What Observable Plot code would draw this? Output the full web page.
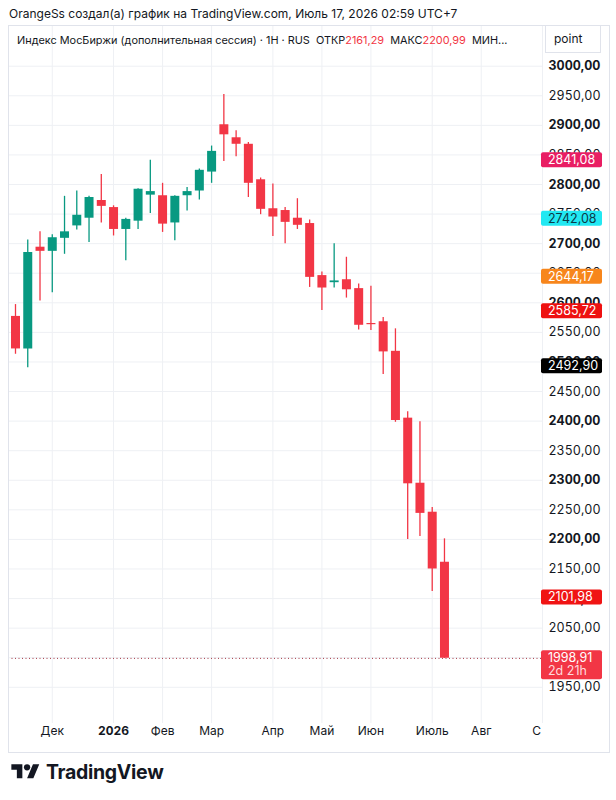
<!DOCTYPE html>
<html>
<head>
<meta charset="utf-8">
<script src="https://cdn.jsdelivr.net/npm/d3@7"></script>
<script src="https://cdn.jsdelivr.net/npm/@observablehq/plot@0.6"></script>
<style>
  body { margin: 0; background: #fff; font-family: Inter, "Noto Sans", sans-serif; color: #131722; }
  #wrap { position: relative; width: 616px; height: 800px; overflow: hidden; background: #fff; }
  #title { position: absolute; left: 9px; top: 6px; font-size: 12px; white-space: nowrap; color: #131722; }
  #frame { position: absolute; left: 8px; top: 25px; width: 602px; height: 728px; border: 1px solid #e0e3eb; box-sizing: border-box; pointer-events: none; }
  #chart { position: absolute; left: 0; top: 25px; }
  #legend { position: absolute; left: 17px; top: 33px; font-size: 10.9px; white-space: nowrap; color: #131722; }
  #legend .v { color: #f23645; }
  #unit { position: absolute; left: 545px; top: 25px; width: 56px; height: 28px; border: 1px solid #e0e3eb; background: #fff; box-sizing: border-box; font-size: 12px; line-height: 26px; padding-left: 8px; }
  #logo { position: absolute; left: 11px; top: 760px; display: flex; align-items: center; gap: 6px; }
  #logo span { font-size: 19.5px; font-weight: 700; letter-spacing: -0.3px; color: #131722; }
</style>
</head>
<body>
<div id="wrap">
  <div id="title">OrangeSs создал(а) график на TradingView.com, Июль 17, 2026 02:59 UTC+7</div>
  <div id="chart"></div>
  <div id="frame"></div>
  <div id="legend">Индекс МосБиржи (дополнительная сессия) · 1H · RUS&nbsp;&nbsp;ОТКР<span class="v">2161,29</span>&nbsp;&nbsp;МАКС<span class="v">2200,99</span>&nbsp;&nbsp;МИН...</div>
  <div id="unit">point</div>
  <div id="logo">
    <svg width="29" height="22" viewBox="0 0 36 28"><path fill="#131722" d="M14 22H7V11H0V4h14v18zM28 22h-8l7.5-18h8L28 22z"/><circle fill="#131722" cx="20" cy="8" r="4"/></svg>
    <span>TradingView</span>
  </div>
</div>
<script>
// ---- Data (weekly candles, index 0 = week of 10 Nov 2025) ----
const opens  = [2577, 2522, 2694, 2687, 2709, 2730, 2743, 2773, 2761, 2724, 2738, 2782, 2781, 2735, 2781, 2789, 2821, 2901, 2879, 2868, 2808, 2759, 2756, 2743, 2734, 2646, 2634, 2639, 2624, 2565, 2568, 2518, 2405, 2295, 2246, 2161.29];
const highs  = [2597, 2706, 2720, 2715, 2780, 2789, 2780, 2817, 2764, 2743, 2793, 2841, 2802, 2781, 2795, 2826, 2865, 2952, 2891, 2871, 2811, 2801, 2761, 2776, 2740, 2652, 2700, 2677, 2632, 2628, 2575, 2556, 2416, 2399, 2254, 2200.99];
const lows   = [2513, 2490, 2603, 2617, 2682, 2723, 2702, 2735, 2713, 2671, 2724, 2751, 2719, 2705, 2755, 2774, 2802, 2839, 2847, 2778, 2749, 2712, 2700, 2724, 2626, 2587, 2625, 2608, 2554, 2553, 2479, 2398, 2200, 2205, 2112, 1998.91];
const closes = [2522, 2685, 2687, 2710, 2720, 2748, 2778, 2763, 2724, 2741, 2792, 2788, 2733, 2780, 2788, 2824, 2856, 2884, 2868, 2802, 2758, 2745, 2736, 2731, 2643, 2625, 2637, 2622, 2562, 2563, 2517, 2401, 2294, 2244, 2150, 1998.91];

const monthTickIndex  = [3, 8, 12, 16, 21, 25, 29, 34, 38, 43];
const monthTickLabels = ["Дек", "2026", "Фев", "Мар", "Апр", "Май", "Июн", "Июль", "Авг", "С"];

const priceTicks = [1950, 2000, 2050, 2100, 2150, 2200, 2250, 2300, 2350, 2400, 2450, 2500, 2550, 2600, 2650, 2700, 2750, 2800, 2850, 2900, 2950, 3000];

const tagValues = [2841.08, 2742.08, 2644.17, 2585.72, 2492.90, 2101.98, 1998.91];
const countdown = "2d 21h";

// ---- Styles ----
const UP = "#089981", DOWN = "#f23645";
const tagFills = ["#e91e63", "#22e8f2", "#f7861c", "#ee1111", "#000000", "#f01414", "#f23645"];
const tagTextFills = ["#ffffff", "#0b3a48", "#ffffff", "#ffffff", "#ffffff", "#ffffff", "#ffffff"];
const GRID = "#eef0f4";

const fmt = v => v.toFixed(2).replace(".", ",");
const candles = opens.map((o, i) => ({i, open: o, high: highs[i], low: lows[i], close: closes[i]}));
const candleColor = d => d.close >= d.open ? UP : DOWN;
const lastClose = closes[closes.length - 1];

const monthLabel = i => monthTickLabels[monthTickIndex.indexOf(i)];
const boldMonth = monthTickIndex.filter(i => monthLabel(i) === "2026");
const edgeMonth = monthTickIndex.filter(i => monthLabel(i) === "С");
const plainMonth = monthTickIndex.filter(i => !boldMonth.includes(i) && !edgeMonth.includes(i));

const hundreds = priceTicks.filter(v => v % 100 === 0);
const fifties = priceTicks.filter(v => v % 100 !== 0);

const NS = "http://www.w3.org/2000/svg";
function tagMark(index, scales, values, dimensions) {
  const g = document.createElementNS(NS, "g");
  g.setAttribute("text-anchor", "start");
  const x0 = dimensions.width - dimensions.marginRight - 2;
  tagValues.forEach((v, k) => {
    const y = scales.y(v);
    const isCurrent = k === tagValues.length - 1;
    const r = document.createElementNS(NS, "rect");
    r.setAttribute("x", x0);
    r.setAttribute("y", y - 7.5);
    r.setAttribute("width", 61);
    r.setAttribute("height", isCurrent ? 29 : 15);
    r.setAttribute("rx", 2);
    r.setAttribute("fill", tagFills[k]);
    g.appendChild(r);
    const t = document.createElementNS(NS, "text");
    t.setAttribute("x", x0 + 7);
    t.setAttribute("y", y);
    t.setAttribute("dy", "0.36em");
    t.setAttribute("text-anchor", "start");
    t.setAttribute("font-size", 12.5);
    t.setAttribute("fill", tagTextFills[k]);
    t.textContent = fmt(v);
    g.appendChild(t);
    if (isCurrent) {
      const t2 = document.createElementNS(NS, "text");
      t2.setAttribute("x", x0 + 7);
      t2.setAttribute("y", y + 13);
      t2.setAttribute("dy", "0.36em");
      t2.setAttribute("text-anchor", "start");
      t2.setAttribute("font-size", 12.5);
      t2.setAttribute("fill", "#ffd9dd");
      t2.textContent = countdown;
      g.appendChild(t2);
    }
  });
  return g;
}

const chart = Plot.plot({
  width: 616,
  height: 728,
  marginTop: 0,
  marginBottom: 30,
  marginLeft: 8,
  marginRight: 73,
  x: {domain: [-0.571, 43.08]},
  y: {domain: [1888.8, 3068.8]},
  color: {type: "identity"},
  style: {fontFamily: "Inter, sans-serif", fontSize: "12px", color: "#131722", background: "transparent", overflow: "visible"},
  marks: [
    Plot.ruleY(priceTicks, {stroke: GRID}),
    Plot.ruleX(monthTickIndex, {stroke: GRID}),
    Plot.ruleY([lastClose], {stroke: "#a33340", strokeDasharray: "1,2.5"}),
    Plot.ruleX(candles, {x: "i", y1: "low", y2: "high", stroke: candleColor, strokeWidth: 1.3}),
    Plot.ruleX(candles, {x: "i", y1: "open", y2: "close", stroke: candleColor, strokeWidth: 9}),
    Plot.axisY(hundreds, {anchor: "right", tickSize: 0, tickPadding: 5, tickFormat: fmt, fontSize: 12.5, fontWeight: "bold", label: null, fill: "#131722"}),
    Plot.axisY(fifties, {anchor: "right", tickSize: 0, tickPadding: 5, tickFormat: fmt, fontSize: 12.5, label: null, fill: "#131722"}),
    Plot.axisX(plainMonth, {anchor: "bottom", tickSize: 0, tickPadding: 3, tickFormat: monthLabel, fontSize: 12, label: null, fill: "#131722"}),
    Plot.axisX(boldMonth, {anchor: "bottom", tickSize: 0, tickPadding: 3, tickFormat: monthLabel, fontSize: 12, fontWeight: "bold", label: null, fill: "#131722"}),
    Plot.axisX(edgeMonth, {anchor: "bottom", tickSize: 0, tickPadding: 3, tickFormat: monthLabel, fontSize: 12, dx: -6, label: null, fill: "#131722"}),
    tagMark
  ]
});
document.getElementById("chart").appendChild(chart);
</script>
</body>
</html>
